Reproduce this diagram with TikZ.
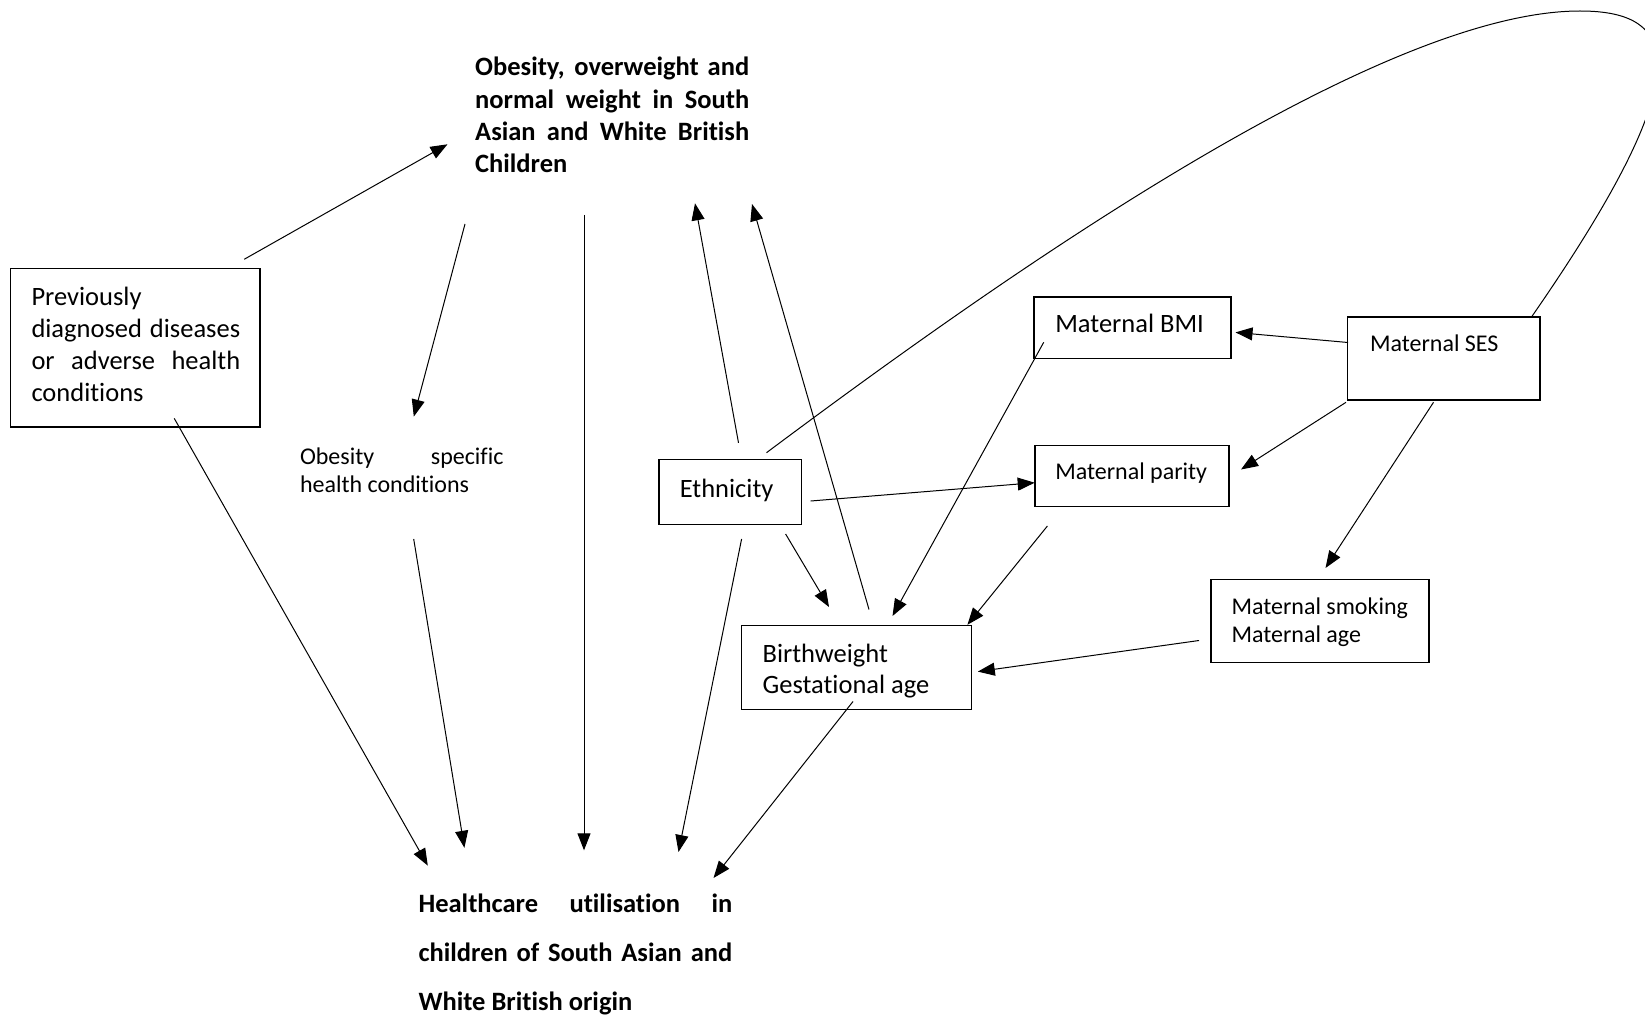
\documentclass[tikz,border=0pt]{standalone}
\usepackage{fontspec}
\setmainfont{Carlito}[Ligatures=NoCommon]
\usetikzlibrary{arrows.meta,calc}
\begin{document}
\begin{tikzpicture}[x=1pt,y=-1pt,
  box/.style={draw, line width=1.7pt, rectangle, inner sep=0pt, outer sep=0pt, anchor=north west},
  lbl/.style={anchor=base west, inner sep=0pt, outer sep=0pt},
  big/.style={font={\fontsize{26.5}{32.2}\selectfont}},
  bigbold/.style={font={\fontsize{26.5}{32.2}\selectfont\bfseries}},
  small/.style={font={\fontsize{24}{28.3}\selectfont}},
  conn/.style={line width=1pt, -{Triangle[length=17pt,width=13pt]}},
  plainline/.style={line width=1pt},
]
\fill[white] (0,0) rectangle (1645,1016);
\useasboundingbox (0,0) rectangle (1645,1016);

% ---- boxes ----
\node[box, minimum width=249.7pt, minimum height=158.4pt] (prev) at (10.5,268.6) {};
\node[box, minimum width=197pt,   minimum height=61.5pt]  (bmi)  at (1034,297) {};
\node[box, minimum width=192.5pt, minimum height=83pt]    (ses)  at (1347.5,317) {};
\node[box, minimum width=142.5pt, minimum height=65pt]    (eth)  at (659,459.5) {};
\node[box, minimum width=194pt,   minimum height=61pt]    (par)  at (1035,445.5) {};
\node[box, minimum width=230pt,   minimum height=84pt]    (bw)   at (741.6,625.5) {};
\node[box, minimum width=218pt,   minimum height=83pt]    (smk)  at (1211,579.5) {};

% ---- texts ----
\node[lbl, bigbold] (top) at (475.2,76) {\parbox[t]{274pt}{%
  \makebox[274pt][s]{Obesity, overweight and}\\
  \makebox[274pt][s]{normal weight in South}\\
  \makebox[274pt][s]{Asian and White British}\\
  Children}};
\node[lbl, font={\fontsize{26.5}{49.3}\selectfont\bfseries}] (hc) at (418.6,912) {\parbox[t]{313.6pt}{%
  \makebox[313.6pt][s]{Healthcare utilisation in}\\
  \makebox[313.6pt][s]{children of South Asian and}\\
  White British origin}};
\node[lbl, small] (obs) at (300,464.5) {\parbox[t]{203.5pt}{%
  \makebox[203.5pt][s]{Obesity specific}\\
  health conditions}};
\node[lbl, big] (prevtext) at (31.5,305) {\parbox[t]{208.7pt}{%
  Previously\\
  \makebox[208.7pt][s]{diagnosed diseases}\\
  \makebox[208.7pt][s]{or adverse health}\\
  conditions}};
\node[lbl, big]   (bmitext) at (1055.3,332.7) {Maternal BMI};
\node[lbl, small] (sestext) at (1370,351) {Maternal SES};
\node[lbl, big]   (ethtext) at (679.8,497.5) {Ethnicity};
\node[lbl, small] (partext) at (1055.3,479) {Maternal parity};
\node[lbl, font={\fontsize{26.5}{31.7}\selectfont}] (bwtext) at (762.6,662) {\parbox[t]{200pt}{Birthweight\\Gestational age}};
\node[lbl, small] (smktext) at (1231.5,614.3) {\parbox[t]{200pt}{Maternal smoking\\Maternal age}};

% ---- connectors ----
\draw[conn] ($(prev.north west)+(233.7,-9.3)$) -- ($(top.base west)+(-27.7,68.3)$);
\draw[conn] ($(top.base west)+(-10.2,148)$) -- ($(obs.base west)+(113.8,-47.9)$);
\draw[conn] ($(top.base west)+(108.8,139)$) -- ($(hc.base west)+(165.4,-61.7)$);
\draw[conn] ($(eth.north west)+(79.5,-16.7)$) -- ($(top.base west)+(219.8,127.3)$);
\draw[conn] ($(bw.north west)+(127.4,-16)$) -- ($(top.base west)+(276.8,128)$);
% long loop from Ethnicity round the top to Maternal SES
\coordinate (looptop) at (1580,11);
\draw[plainline] ($(eth.north west)+(107.5,-6.8)$)
  .. controls (1007,273) and (1380,11) .. (looptop)
  .. controls (1680,11) and (1702,71) .. ($(ses.north west)+(184.2,-0.3)$);
\draw[conn] ($(eth.north west)+(151.7,41.5)$) -- ($(par.north west)+(-0.3,37.2)$);
\draw[conn] ($(eth.north west)+(126.6,74.5)$) -- ($(bw.north west)+(87.4,-18.5)$);
\draw[conn] ($(eth.north west)+(82.6,79.5)$) -- ($(hc.base west)+(259.9,-60)$);
\draw[conn] ($(bmi.north west)+(9.7,45.3)$) -- ($(bw.north west)+(150.9,-9.5)$);
\draw[conn] ($(ses.north west)+(0.5,25.5)$) -- ($(bmi.north west)+(201.5,35.4)$);
\draw[conn] ($(ses.north west)+(-1.5,85.3)$) -- ($(par.north west)+(206,24)$);
\draw[conn] ($(ses.north west)+(86,85.3)$) -- ($(smk.north west)+(114.5,-11.5)$);
\draw[conn] ($(par.north west)+(12.4,80.5)$) -- ($(bw.north west)+(225.8,-0.7)$);
\draw[conn] ($(smk.north west)+(-12,61)$) -- ($(bw.north west)+(236.2,46.1)$);
\draw[conn] ($(bw.north west)+(111.4,76)$) -- ($(hc.base west)+(294.9,-34)$);
\draw[conn] ($(obs.base west)+(113.7,74.5)$) -- ($(hc.base west)+(45.8,-64.2)$);
\draw[conn] ($(prev.north west)+(163.7,149.7)$) -- ($(hc.base west)+(9.2,-46.4)$);
\end{tikzpicture}
\end{document}
